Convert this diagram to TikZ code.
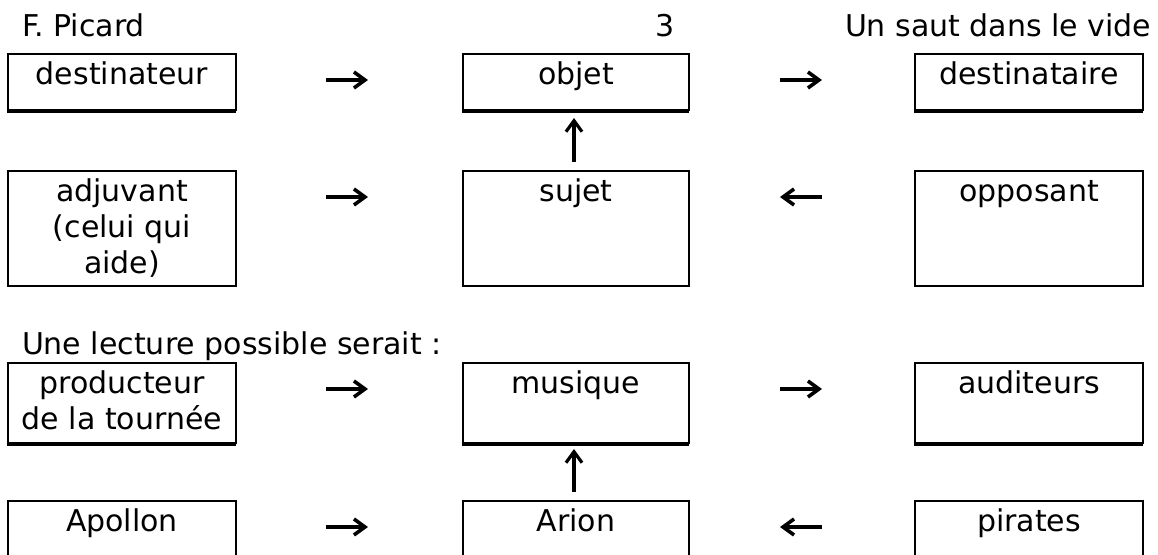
\documentclass[tikz,border=0pt]{standalone}
\usepackage{fontspec}
\setmainfont{DejaVu Sans}
\usetikzlibrary{arrows.meta,fit}
\begin{document}
\begin{tikzpicture}[x=0.5pt,y=-0.5pt,
  box/.style={draw,line width=1.35pt,inner sep=0pt,outer sep=0pt,rectangle},
  thickbottom/.style={line width=2pt},
  txt/.style={inner sep=0pt,outer sep=0pt,align=center,font=\fontsize{15}{18}\selectfont},
  head/.style={inner sep=0pt,outer sep=0pt,font=\fontsize{15}{18}\selectfont,anchor=base west},
  harrow/.style={line width=1.8pt,-{Straight Barb[length=5.5pt,width=8pt]}},
  varrow/.style={line width=1.6pt,-{Straight Barb[length=5.5pt,width=8pt]}}
]
\useasboundingbox (0,0) rectangle (1158,555);
\clip (0,0) rectangle (1158,555);

% headings
\node[head] (h1) at (22,37) {F. Picard};
\node[head] (h2) at (655,37) {3};
\node[head] (h3) at (845,37) {Un saut dans le vide};
\node[head] (h4) at (22,355) {Une lecture possible serait :};

% boxes
\node[box,fit={(8,54) (236,110)}] (a1) {};
\node[box,fit={(463,54) (689,110)}] (b1) {};
\node[box,fit={(915,54) (1143,110)}] (c1) {};
\node[box,fit={(8,171) (236,286)}] (a2) {};
\node[box,fit={(463,171) (689,286)}] (b2) {};
\node[box,fit={(915,171) (1143,286)}] (c2) {};
\node[box,fit={(8,363) (236,443)}] (a3) {};
\node[box,fit={(463,363) (689,443)}] (b3) {};
\node[box,fit={(915,363) (1143,443)}] (c3) {};
\node[box,fit={(8,501) (236,600)}] (a4) {};
\node[box,fit={(463,501) (689,600)}] (b4) {};
\node[box,fit={(915,501) (1143,600)}] (c4) {};

% heavier bottom edges
\foreach \n in {a1,b1,c1,a3,b3,c3}
  \draw[thickbottom] ([xshift=-0.7pt,yshift=-0.4pt]\n.south west) -- ([yshift=-0.4pt]\n.south east);

% box texts
\node[txt,anchor=north] (ta1) at ([yshift=-2.6pt]a1.north) {\strut destinateur};
\node[txt,anchor=north] (tb1) at ([yshift=-2.6pt]b1.north) {\strut objet};
\node[txt,anchor=north] (tc1) at ([yshift=-2.6pt]c1.north) {\strut destinataire};
\node[txt,anchor=north] (ta2) at ([yshift=-2.8pt]a2.north) {\strut adjuvant\\\strut(celui qui\\\strut aide)};
\node[txt,anchor=north] (tb2) at ([yshift=-2.8pt]b2.north) {\strut sujet};
\node[txt,anchor=north] (tc2) at ([yshift=-2.8pt]c2.north) {\strut opposant};
\node[txt,anchor=north] (ta3) at ([yshift=-2.6pt]a3.north) {\strut producteur\\\strut de la tournée};
\node[txt,anchor=north] (tb3) at ([yshift=-2.6pt]b3.north) {\strut musique};
\node[txt,anchor=north] (tc3) at ([yshift=-2.6pt]c3.north) {\strut auditeurs};
\node[txt,anchor=north] (ta4) at ([yshift=-2.8pt]a4.north) {\strut Apollon};
\node[txt,anchor=north] (tb4) at ([yshift=-2.8pt]b4.north) {\strut Arion};
\node[txt,anchor=north] (tc4) at ([yshift=-2.8pt]c4.north) {\strut pirates};

% horizontal arrows
\foreach \l/\r in {a1/b1,a2/b2,a3/b3,a4/b4}
  \draw[harrow,shorten <=45pt,shorten >=47.5pt]
    ([yshift=-13pt]\l.north east) -- ([yshift=-13pt]\r.north west);
\foreach \l/\r in {b1/c1,b3/c3}
  \draw[harrow,shorten <=45.5pt,shorten >=46.5pt]
    ([yshift=-13pt]\l.north east) -- ([yshift=-13pt]\r.north west);
\foreach \l/\r in {b2/c2,b4/c4}
  \draw[harrow,shorten <=46.5pt,shorten >=45.5pt]
    ([yshift=-13pt]\r.north west) -- ([yshift=-13pt]\l.north east);

% vertical arrows
\draw[varrow,shorten <=4.5pt,shorten >=4pt] ([xshift=-1pt]b2.north) -- ([xshift=-1pt]b1.south);
\draw[varrow,shorten <=4.5pt,shorten >=3pt] ([xshift=-1pt]b4.north) -- ([xshift=-1pt]b3.south);
\end{tikzpicture}
\end{document}
